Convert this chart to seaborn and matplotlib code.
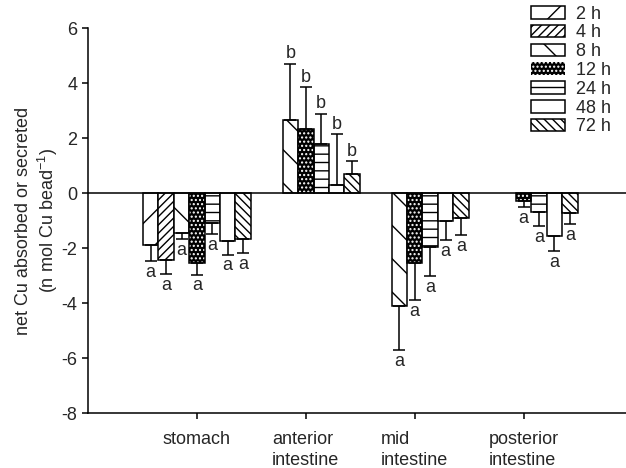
import numpy as np
import pandas as pd
import matplotlib
matplotlib.use("Agg")
import matplotlib.pyplot as plt
import matplotlib.patches as mpatches
import seaborn as sns

# gut regions and sampling times
regions = ["stomach", "anterior\nintestine", "mid\nintestine", "posterior\nintestine"]
times = ["2 h", "4 h", "8 h", "12 h", "24 h", "48 h", "72 h"]

# mean net Cu per region (nan = not measured)
cu_2h = [-1.90, np.nan, np.nan, np.nan]
cu_4h = [-2.43, np.nan, np.nan, np.nan]
cu_8h = [-1.45, 2.66, -4.10, np.nan]
cu_12h = [-2.55, 2.33, -2.55, -0.30]
cu_24h = [-1.10, 1.77, -1.96, -0.70]
cu_48h = [-1.73, 0.31, -1.00, -1.55]
cu_72h = [-1.67, 0.68, -0.92, -0.73]

# one-sided error (SE)
se_2h = [0.58, np.nan, np.nan, np.nan]
se_4h = [0.52, np.nan, np.nan, np.nan]
se_8h = [0.22, 2.04, 1.62, np.nan]
se_12h = [0.42, 1.52, 1.33, 0.20]
se_24h = [0.40, 1.11, 1.06, 0.51]
se_48h = [0.51, 1.82, 0.71, 0.57]
se_72h = [0.51, 0.47, 0.60, 0.39]

# significance letters per region
letters = ["a", "b", "a", "a"]

means = [cu_2h, cu_4h, cu_8h, cu_12h, cu_24h, cu_48h, cu_72h]
errs = [se_2h, se_4h, se_8h, se_12h, se_24h, se_48h, se_72h]

rows = []
for t, m, e in zip(times, means, errs):
    for r, v, s in zip(regions, m, e):
        if not np.isnan(v):
            rows.append({"region": r, "time": t, "cu": v, "se": s})
df = pd.DataFrame(rows)

sns.set_style("ticks")
plt.rcParams["font.family"] = ["Liberation Sans", "DejaVu Sans"]
plt.rcParams["axes.unicode_minus"] = False
plt.rcParams["mathtext.fontset"] = "custom"
plt.rcParams["mathtext.rm"] = "Liberation Sans"
plt.rcParams["hatch.linewidth"] = 1.0

fig = plt.figure(figsize=(6.26, 4.68), dpi=100)
ax = fig.add_axes([0.1406, 0.1175, 0.8594, 0.8225])

sns.barplot(data=df, x="region", y="cu", hue="time", order=regions,
            hue_order=times, dodge=True, width=0.99, errorbar=None,
            legend=False, ax=ax)

hatches = ["/", "////", "\\", "....", "--", "", "\\\\\\\\"]
lw = 1.1
bar_conts = list(ax.containers)
for i, cont in enumerate(bar_conts):
    for p in cont.patches:
        cx = p.get_x() + p.get_width() / 2
        gi = int(round(cx))
        val = p.get_height()
        sub = df[(df.region == regions[gi]) & (df.time == times[i])]
        se = sub.se.iloc[0]
        if times[i] == "12 h":
            p.set_facecolor("black")
            p.set_edgecolor("white")
            p.set_linewidth(0)
            p.set_hatch(hatches[i])
            ax.add_patch(mpatches.Rectangle((p.get_x(), p.get_y()), p.get_width(),
                                            p.get_height(), fill=False,
                                            edgecolor="black", linewidth=lw, zorder=3))
        else:
            p.set_facecolor("white")
            p.set_edgecolor("black")
            p.set_linewidth(lw)
            p.set_hatch(hatches[i])
        if val >= 0:
            yerr = [[0], [se]]
            end = val + se
        else:
            yerr = [[se], [0]]
            end = val - se
        ax.errorbar([cx], [val], yerr=yerr, fmt="none", ecolor="black",
                    elinewidth=lw, capsize=4.3, capthick=lw, zorder=2)
        if val >= 0:
            ax.annotate(letters[gi], (cx, end), xytext=(0, 1), textcoords="offset points",
                        ha="center", va="bottom", fontsize=13)
        else:
            ax.annotate(letters[gi], (cx, end), xytext=(0, -2), textcoords="offset points",
                        ha="center", va="top", fontsize=13)

ax.axhline(0, color="black", linewidth=lw, zorder=4)
ax.set_ylim(-8, 6)
ax.set_xlim(-1, 3.94)
ax.set_yticks(range(-8, 7, 2))
ax.set_xticks(range(len(regions)))
ax.set_xticklabels(regions, multialignment="left", linespacing=1.3)
ax.tick_params(axis="both", labelsize=13, length=4, width=lw, direction="out", color="black")
ax.tick_params(axis="x", pad=9)
ax.set_xlabel("")
ax.set_ylabel("net Cu absorbed or secreted\n(n mol Cu bead$^{-1}$)", fontsize=13, labelpad=1)
sns.despine(ax=ax)
for s in ["left", "bottom"]:
    ax.spines[s].set_linewidth(lw)
    ax.spines[s].set_color("black")

handles = []
for t, h in zip(times, hatches):
    if t == "12 h":
        handles.append(mpatches.Patch(facecolor="black", edgecolor="white", hatch=h, linewidth=0))
    else:
        handles.append(mpatches.Patch(facecolor="white", edgecolor="black", hatch=h, linewidth=lw))
fig.legend(handles, times, loc="upper left", bbox_to_anchor=(0.848, 0.988),
           bbox_transform=fig.transFigure, frameon=False, fontsize=13,
           handlelength=1.9, handleheight=0.7, labelspacing=0.1,
           handletextpad=0.6, borderpad=0, borderaxespad=0)

fig.savefig("out.png", dpi=100)
